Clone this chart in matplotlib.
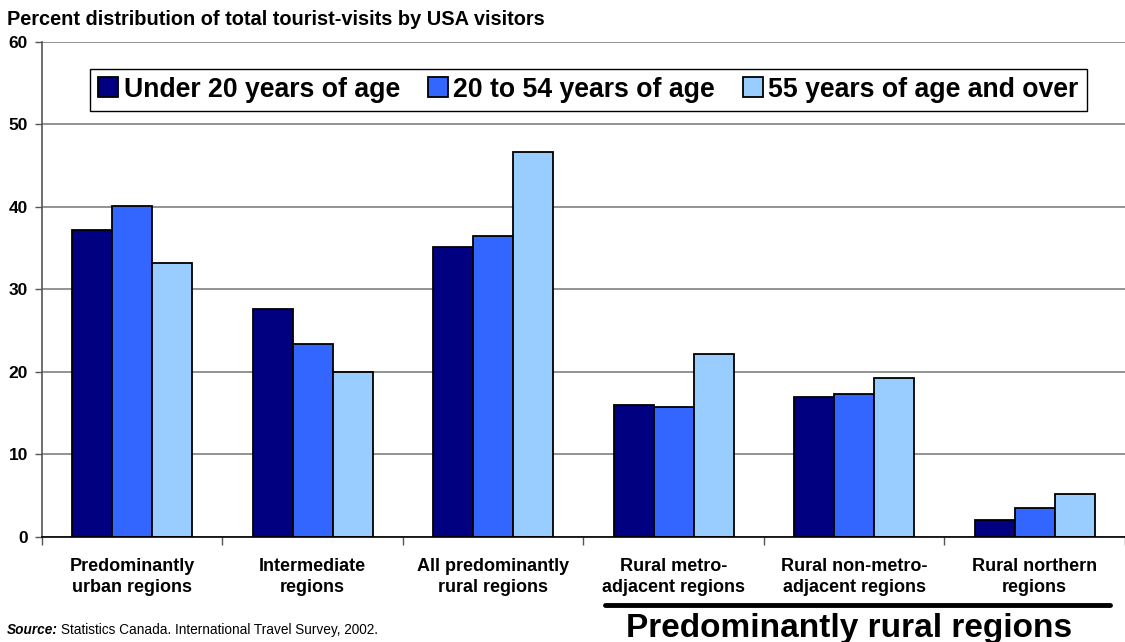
import matplotlib.pyplot as plt
import numpy as np
from matplotlib.lines import Line2D

plt.rcParams["font.family"] = ["Liberation Sans", "DejaVu Sans"]

# Percent of total tourist-visits by USA visitors, by region type and age group
regions = [
    "Predominantly\nurban regions",
    "Intermediate\nregions",
    "All predominantly\nrural regions",
    "Rural metro-\nadjacent regions",
    "Rural non-metro-\nadjacent regions",
    "Rural northern\nregions",
]
under_20 = [37.2, 27.6, 35.1, 16.0, 17.0, 2.1]
age_20_54 = [40.1, 23.4, 36.5, 15.7, 17.3, 3.5]
age_55_over = [33.2, 20.0, 46.7, 22.2, 19.3, 5.2]
series_labels = ["Under 20 years of age", "20 to 54 years of age", "55 years of age and over"]
series_colors = ["#000080", "#3366FF", "#99CCFF"]
y_ticks = [0, 10, 20, 30, 40, 50, 60]

fig = plt.figure(figsize=(11.25, 6.42), dpi=100)
ax = fig.add_axes([0.0373, 0.1636, 0.9627, 0.771])

x = np.arange(len(regions))
width = 0.222
for i, (vals, lab, col) in enumerate(zip([under_20, age_20_54, age_55_over], series_labels, series_colors)):
    ax.bar(x + (i - 1) * width, vals, width, color=col, edgecolor="black",
           linewidth=1.3, label=lab, zorder=3)

ax.set_xlim(-0.5, len(regions) - 0.5)
ax.set_ylim(0, 60)
ax.set_yticks(y_ticks)
ax.set_yticklabels([str(t) for t in y_ticks], fontsize=12.5, fontweight="bold")
ax.yaxis.grid(True, color="#808080", linewidth=1.2, zorder=0)
ax.tick_params(axis="y", length=5, width=1, color="#555555", pad=5)

ax.set_xticks(x)
ax.set_xticklabels(regions, fontsize=13, fontweight="bold", linespacing=1.3)
ax.tick_params(axis="x", which="major", length=0, pad=15)
ax.set_xticks(np.arange(len(regions) + 1) - 0.5, minor=True)
ax.tick_params(axis="x", which="minor", length=6, width=1, color="#555555")

for side in ("top", "right"):
    ax.spines[side].set_visible(False)
ax.spines["left"].set_color("#555555")
ax.spines["left"].set_linewidth(1.2)
ax.spines["bottom"].set_color("black")
ax.spines["bottom"].set_linewidth(1.2)
ax.spines["bottom"].set_zorder(4)

leg = ax.legend(loc="center", bbox_to_anchor=(0.5046, 0.904), ncol=3,
                prop={"weight": "bold", "size": 19.2}, frameon=True, fancybox=False,
                edgecolor="black", handlelength=0.75, handleheight=0.75, handletextpad=0.2,
                columnspacing=1.05, borderpad=0.3, borderaxespad=0)
leg.get_frame().set_linewidth(1.0)
leg.get_frame().set_alpha(1)
leg.set_zorder(5)

fig.text(0.006, 0.970, "Percent distribution of total tourist-visits by USA visitors",
         fontsize=14.4, fontweight="bold", va="center", ha="left")

# bracket under the rural subgroups
fig.add_artist(Line2D([605 / 1125, 1110 / 1125], [1 - 605 / 642, 1 - 605 / 642],
                      color="black", linewidth=3.5, solid_capstyle="round"))
fig.text(849 / 1125, 1 - 637 / 642, "Predominantly rural regions", fontsize=24,
         fontweight="bold", ha="center", va="baseline")

src = fig.text(0.006, 1 - 630 / 642, "Source:", fontsize=9.8, fontweight="bold",
               style="italic", va="center", ha="left")
fig.canvas.draw()
bb = src.get_window_extent().transformed(fig.transFigure.inverted())
fig.text(bb.x1 + 0.003, 1 - 630 / 642, "Statistics Canada. International Travel Survey, 2002.",
         fontsize=9.8, va="center", ha="left")

fig.savefig("out.png", dpi=100)
